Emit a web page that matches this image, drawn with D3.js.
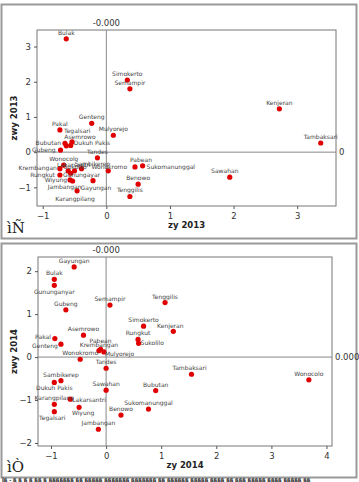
<!DOCTYPE html>
<html>
<head>
<meta charset="utf-8">
<script src="https://cdn.jsdelivr.net/npm/d3@7"></script>
<style>
body { margin: 0; background: #fff; }
svg text { font-family: "DejaVu Sans", sans-serif; }
</style>
</head>
<body>
<div id="chart"></div>
<script>
////// DATA ////////
var names2013 = ["Bulak","Simokerto","Semampir","Kenjeran","Tambaksari","Sawahan","Genteng","Pakal","Mulyorejo",
	"Bubutan","Tegalsari","Asemrowo","Dukuh Pakis","Gubeng","Tandes","Wonocolo","Krembangan","Rungkut","Sambikerep",
	"Sukolilo","Gunungayar","Lakarsantri","Wiyung","Jambangan","Gayungan","Karangpilang","Wonokromo","Pabean",
	"Sukomanunggal","Benowo","Tenggilis"];
var zy2013 = [-0.63,0.33,0.37,2.72,3.37,1.94,-0.23,-0.73,0.11,
	-0.65,-0.63,-0.54,-0.56,-0.72,-0.14,-0.67,-0.73,-0.73,-0.39,
	-0.60,-0.50,-0.56,-0.57,-0.53,-0.21,-0.46,0.03,0.45,
	0.57,0.50,0.37];
var zwy2013 = [3.22,2.05,1.80,1.23,0.26,-0.71,0.82,0.63,0.48,
	0.25,0.18,0.29,0.19,0.06,-0.16,-0.37,-0.47,-0.65,-0.47,
	-0.53,-0.53,-0.60,-0.79,-0.82,-0.81,-1.10,-0.53,-0.42,
	-0.39,-0.91,-1.26];

var names2014 = ["Gayungan","Bulak","Gununganyar","Gubeng","Semampir","Tenggilis","Simokerto","Kenjeran","Asemrowo",
	"Pakal","Genteng","Rungkut","Sukolilo","Pabean","Krembangan","Mulyorejo","Wonokromo","Tandes","Tambaksari",
	"Wonocolo","Sambikerep","Dukuh Pakis","Sawahan","Bubutan","Karangpilang","Lakarsantri","Tegalsari","Wiyung",
	"Sukomanunggal","Benowo","Jambangan"];
var zy2014 = [-0.58,-0.94,-0.94,-0.73,0.07,1.07,0.68,1.22,-0.41,
	-0.93,-0.82,0.58,0.59,-0.10,-0.13,-0.04,-0.47,0.00,1.55,
	3.68,-0.82,-0.94,0.00,0.90,-0.94,-0.65,-0.94,-0.49,
	0.77,0.27,-0.14];
var zwy2014 = [2.10,1.81,1.67,1.10,1.21,1.27,0.72,0.60,0.51,
	0.43,0.30,0.41,0.32,0.18,0.15,0.12,-0.05,-0.26,-0.40,
	-0.53,-0.55,-0.59,-0.77,-0.78,-1.10,-0.98,-1.27,-1.17,
	-1.21,-1.35,-1.68];

var xTicks2013 = [-1,0,1,2,3];
var yTicks2013 = [-1,0,1,2,3];
var xTicks2014 = [-1,0,1,2,3,4];
var yTicks2014 = [-2,-1,0,1,2];
///////////////////////

// label placement: [dx, dy, anchor] relative to the dot, default is centred above
var labels2013 = {
	"Sawahan":[-5,-6,"middle"], "Tegalsari":[11,-15,"middle"], "Asemrowo":[8,-5,"middle"],
	"Bubutan":[-4,0,"end"], "Dukuh Pakis":[3,-2,"start"], "Gubeng":[-5,0,"end"],
	"Krembangan":[-3,-1,"end"], "Rungkut":[-5,0,"end"], "Sambikerep":[11,-5,"middle"],
	"Sukolilo":[7,-4,"middle"], "Gunungayar":[7,4,"middle"], "Lakarsantri":[3,-8,"middle"],
	"Wiyung":[-3,0,"end"], "Jambangan":[-8,6,"middle"], "Gayungan":[3,7,"middle"],
	"Karangpilang":[-2,8,"middle"], "Wonokromo":[1,-4,"middle"], "Pabean":[6,-7,"middle"],
	"Sukomanunggal":[4,1,"start"]
};
var labels2014 = {
	"Gununganyar":[0,7,"middle"], "Pakal":[-4,-2,"end"], "Genteng":[-3,2,"end"],
	"Sukolilo":[2,0,"start"], "Pabean":[0,-8,"middle"], "Mulyorejo":[1,2,"start"],
	"Dukuh Pakis":[0,6,"middle"], "Lakarsantri":[2,1,"start"], "Tegalsari":[-2,6,"middle"],
	"Wiyung":[4,6,"middle"], "Tambaksari":[-2,-6,"middle"], "Kenjeran":[-3,-5,"middle"]
};

var w = 359, h = 482;

var svg = d3.select("#chart")
	.append("svg")
	.attr("width", w)
	.attr("height", h);

drawPanel({
	top: 4, bottom: 238,
	x0: 37, x1: 336, y0: 30, y1: 206,
	xDomain: [-1.09, 3.61], yDomain: [-1.53, 3.47],
	names: names2013, xs: zy2013, ys: zwy2013, labels: labels2013,
	xTicks: xTicks2013, yTicks: yTicks2013,
	xTitle: "zy 2013", yTitle: "zwy 2013",
	topRef: "-0.000", rightRef: "0", glyph: "ìÑ"
});

drawPanel({
	top: 243, bottom: 477,
	x0: 38, x1: 332, y0: 257, y1: 446,
	xDomain: [-1.236, 4.1], yDomain: [-2.07, 2.33],
	names: names2014, xs: zy2014, ys: zwy2014, labels: labels2014,
	xTicks: xTicks2014, yTicks: yTicks2014,
	xTitle: "zy 2014", yTitle: "zwy 2014",
	topRef: "-0.000", rightRef: "0.000", glyph: "ìÒ"
});

// garbled caption line along the bottom edge
svg.append("text")
	.attr("x", 2).attr("y", 482)
	.style("font-size", "5px").style("font-weight", "bold").style("fill", "#111")
	.text("Ïß - ß ß ß ß ßß ß  ßßßßßßß ßß ßßßßß ßßßßßßß ßßßßßßß ßß ßßßßßß ßßßßß ßßßß ßß ßßß ßßßßß ßßßß ßßßßß ßß");


// FUNCTION DEFINITIONS

function drawPanel(p) {
	var g = svg.append("g");

	// outer frame
	g.append("rect")
		.attr("x", 1.5).attr("y", p.top + 0.5)
		.attr("width", 355).attr("height", p.bottom - p.top)
		.style("fill", "none").style("stroke", "#999").style("stroke-width", 2);

	var x = d3.scaleLinear().domain(p.xDomain).range([p.x0, p.x1]);
	var y = d3.scaleLinear().domain(p.yDomain).range([p.y1, p.y0]);

	// plot frame
	g.append("rect")
		.attr("x", p.x0).attr("y", p.y0)
		.attr("width", p.x1 - p.x0).attr("height", p.y1 - p.y0)
		.style("fill", "none").style("stroke", "#777").style("stroke-width", 1);

	// axes
	var xAxis = g.append("g")
		.attr("transform", "translate(0," + p.y1 + ")")
		.call(d3.axisBottom(x).tickValues(p.xTicks).tickSize(3).tickFormat(d3.format("d")));
	var yAxis = g.append("g")
		.attr("transform", "translate(" + p.x0 + ",0)")
		.call(d3.axisLeft(y).tickValues(p.yTicks).tickSize(3).tickFormat(d3.format("d")));
	[xAxis, yAxis].forEach(function (a) {
		a.select(".domain").remove();
		a.selectAll("line").style("stroke", "#555");
		a.selectAll("text").style("font-size", "8.5px").style("fill", "#333")
			.style("font-family", "'DejaVu Sans', sans-serif");
	});
	xAxis.selectAll("text").attr("dy", "0.8em");

	// reference lines at zero
	g.append("line")
		.attr("x1", x(0)).attr("x2", x(0)).attr("y1", p.y0).attr("y2", p.y1)
		.style("stroke", "#888").style("stroke-width", 1);
	g.append("line")
		.attr("x1", p.x0).attr("x2", p.x1).attr("y1", y(0)).attr("y2", y(0))
		.style("stroke", "#888").style("stroke-width", 1);
	g.append("text")
		.attr("x", x(0)).attr("y", p.y0 - 4)
		.attr("text-anchor", "middle")
		.style("font-size", "8.5px").style("fill", "#333")
		.text(p.topRef);
	g.append("text")
		.attr("x", p.x1 + 3).attr("y", y(0) + 3)
		.style("font-size", "8.5px").style("fill", "#333")
		.text(p.rightRef);

	// titles
	g.append("text")
		.attr("x", (p.x0 + p.x1) / 2).attr("y", p.y1 + 22)
		.attr("text-anchor", "middle")
		.style("font-size", "8.5px").style("font-weight", "bold").style("fill", "#222")
		.text(p.xTitle);
	g.append("text")
		.attr("transform", "translate(17," + ((p.y0 + p.y1) / 2) + ") rotate(-90)")
		.attr("text-anchor", "middle")
		.style("font-size", "8.5px").style("font-weight", "bold").style("fill", "#222")
		.text(p.yTitle);

	// odd glyph in the corner
	g.append("text")
		.attr("x", 7).attr("y", p.bottom - 5)
		.style("font-family", "'DejaVu Serif', serif")
		.style("font-size", "15px").style("fill", "#222")
		.text(p.glyph);

	// points
	var pts = p.names.map(function (n, i) {
		return { name: n, x: p.xs[i], y: p.ys[i] };
	});

	g.selectAll("circle")
		.data(pts)
		.enter()
		.append("circle")
		.attr("cx", function (d) { return x(d.x); })
		.attr("cy", function (d) { return y(d.y); })
		.attr("r", 2.6)
		.style("fill", "#e00000");

	g.selectAll("text.lbl")
		.data(pts)
		.enter()
		.append("text")
		.attr("class", "lbl")
		.attr("x", function (d) { return x(d.x) + labelOf(p, d)[0]; })
		.attr("y", function (d) { return y(d.y) + labelOf(p, d)[1] + 2; })
		.attr("text-anchor", function (d) { return labelOf(p, d)[2]; })
		.style("font-size", "6px")
		.style("fill", "#444")
		.text(function (d) { return d.name; });
}

function labelOf(p, d) {
	return p.labels[d.name] || [0, -6, "middle"];
}
</script>
</body>
</html>
